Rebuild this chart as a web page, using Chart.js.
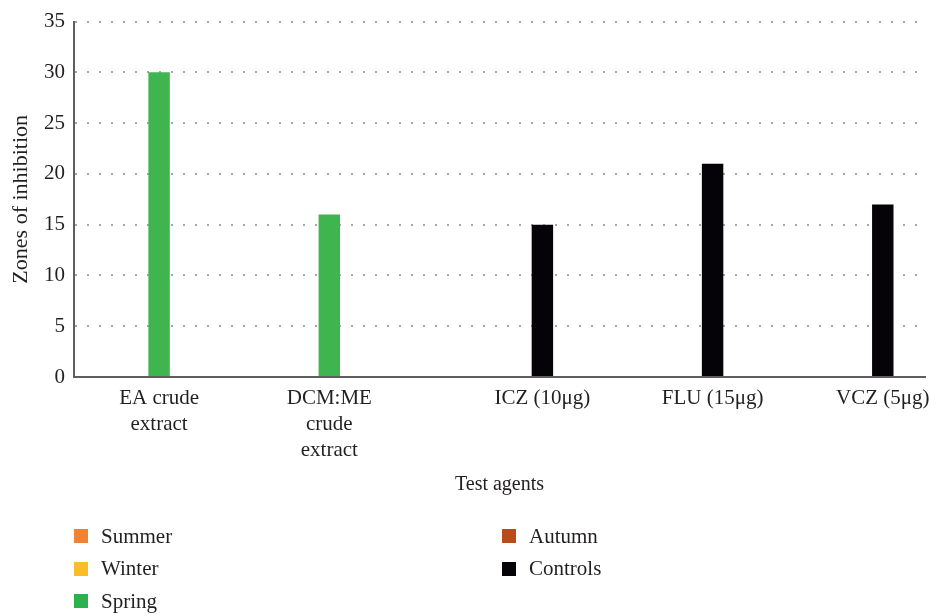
<!DOCTYPE html>
<html>
<head>
<meta charset="utf-8">
<script src="https://cdn.jsdelivr.net/npm/chart.js@4"></script>
<style>
html,body{margin:0;padding:0;background:#fff;}
#wrap{position:relative;width:929px;height:614px;overflow:hidden;}
#c{position:absolute;left:0;top:0;}
#legend{position:absolute;left:0;top:0;width:929px;height:614px;pointer-events:none;font-family:"Liberation Serif",serif;font-size:21px;color:#231f20;}
.item{position:absolute;display:flex;align-items:center;height:26px;white-space:nowrap;}
.sw{width:14px;height:14px;margin-right:13px;flex:none;}
</style>
</head>
<body>
<div id="wrap">
<canvas id="c" width="929" height="614"></canvas>
<div id="legend"></div>
</div>
<script>
// ---- data ----
const categories = [["EA crude", "extract"], ["DCM:ME", "crude", "extract"], "ICZ (10μg)", "FLU (15μg)", "VCZ (5μg)"];
const seriesNames = ["Summer", "Winter", "Spring", "Autumn", "Controls"];
const summer   = [null, null, null, null, null];
const winter   = [null, null, null, null, null];
const spring   = [30, 16, null, null, null];
const autumn   = [null, null, null, null, null];
const controls = [null, null, 15, 21, 17];
const yTicks = [0, 5, 10, 15, 20, 25, 30, 35];
const xTitle = "Test agents";
const yTitle = "Zones of inhibition";

// ---- styles ----
const seriesColors = ["#f08233", "#fbbd27", "#3fb550", "#b84c1b", "#050308"];
const legendColors = ["#f08233", "#fbbd27", "#2ab24f", "#b84c1b", "#050308"];
const textColor = "#231f20";
const fontFamily = '"Liberation Serif", "Times New Roman", serif';

const seriesValues = [summer, winter, spring, autumn, controls];
const datasets = seriesNames.map((name, i) => ({
  label: name,
  data: seriesValues[i],
  backgroundColor: seriesColors[i],
  borderWidth: 0,
  barPercentage: 1.0,
  categoryPercentage: 0.63
}));

const xLabelPlugin = {
  id: 'xLabels',
  afterDraw(chart) {
    const ctx = chart.ctx, xs = chart.scales.x;
    ctx.save();
    ctx.font = '21px ' + fontFamily;
    ctx.fillStyle = textColor;
    ctx.textAlign = 'center';
    ctx.textBaseline = 'middle';
    chart.data.labels.forEach((lab, i) => {
      let x = xs.getPixelForValue(i);
      chart.data.datasets.forEach((ds, d) => {
        if (ds.data[i] != null) x = chart.getDatasetMeta(d).data[i].x;
      });
      const lines = Array.isArray(lab) ? lab : [lab];
      lines.forEach((t, k) => ctx.fillText(t, x, xs.top + 21 + k * 26));
    });
    ctx.restore();
  }
};

const chart = new Chart(document.getElementById('c'), {
  type: 'bar',
  data: { labels: categories, datasets: datasets },
  plugins: [xLabelPlugin],
  options: {
    responsive: false,
    animation: false,
    devicePixelRatio: 1,
    layout: { padding: { left: 0, right: 4, top: 17, bottom: 114 } },
    plugins: { legend: { display: false }, tooltip: { enabled: false } },
    scales: {
      x: {
        grid: { display: false, drawTicks: false },
        border: { display: true, color: '#5e5e5e', width: 2 },
        ticks: { display: false },
        title: { display: true, text: xTitle, color: textColor, font: { family: fontFamily, size: 20, lineHeight: 1.2 }, padding: { top: 0, bottom: 3 } },
        afterFit(scale) { scale.height = 123; }
      },
      y: {
        min: 0, max: 35,
        afterBuildTicks(scale) { scale.ticks = yTicks.map(v => ({ value: v })); },
        grid: { color: '#a6a6a6', lineWidth: 2, drawTicks: false },
        border: { display: true, color: '#5e5e5e', width: 2, dash: [2, 10] },
        ticks: { color: textColor, padding: 9, font: { family: fontFamily, size: 21 } },
        title: { display: true, text: yTitle, color: textColor, font: { family: fontFamily, size: 22, lineHeight: 1.2 }, padding: { top: 8, bottom: 0 } },
        afterFit(scale) { scale.width = 74; }
      }
    }
  }
});

// ---- HTML legend (two columns, column-major) ----
const legendEl = document.getElementById('legend');
chart.data.datasets.forEach((ds, i) => {
  const col = Math.floor(i / 3), row = i % 3;
  const item = document.createElement('div');
  item.className = 'item';
  item.style.left = (col === 0 ? 74 : 502) + 'px';
  item.style.top = (536 + row * 32.5 - 13) + 'px';
  const sw = document.createElement('span');
  sw.className = 'sw';
  sw.style.background = legendColors[i];
  const tx = document.createElement('span');
  tx.textContent = ds.label;
  item.appendChild(sw);
  item.appendChild(tx);
  legendEl.appendChild(item);
});
</script>
</body>
</html>
